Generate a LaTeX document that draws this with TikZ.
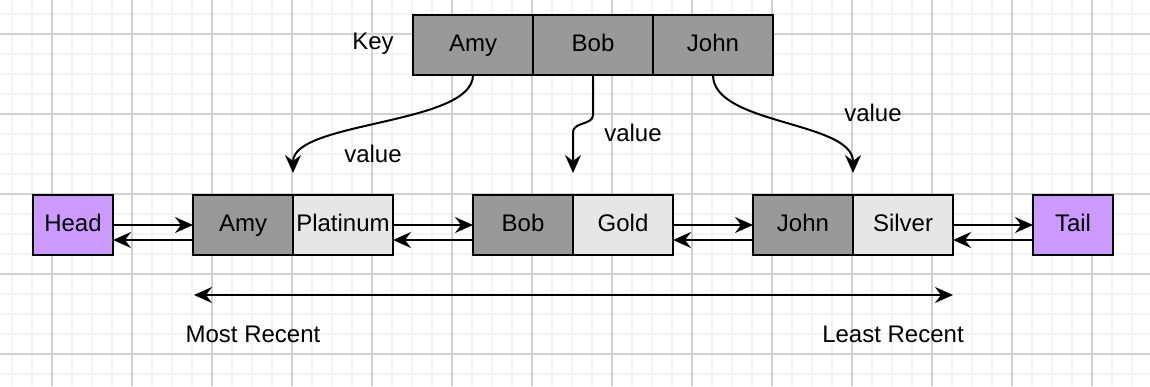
\documentclass[tikz,border=0pt]{standalone}
\usepackage{fontspec}
\setmainfont{Liberation Sans}
\usetikzlibrary{arrows.meta,positioning}
\definecolor{keyGray}{RGB}{153,153,153}
\definecolor{valGray}{RGB}{230,230,230}
\definecolor{endPurple}{RGB}{204,153,255}
\definecolor{gridMinor}{RGB}{243,243,243}
\definecolor{gridMajor}{RGB}{208,208,208}

\tikzset{
  cell/.style={draw=black, line width=1pt, minimum width=50pt, minimum height=30pt,
    inner sep=0pt, outer sep=0pt, text height=8.6pt, text depth=2.6pt,
    font=\fontsize{12}{14}\selectfont},
  keycell/.style={cell, fill=keyGray},
  valcell/.style={cell, fill=valGray},
  endcell/.style={cell, fill=endPurple, minimum width=40pt},
  vtip/.tip={Stealth[length=9pt,width=8pt,inset=3pt]},
  link/.style={line width=1pt, -vtip},
  lbl/.style={font=\fontsize{12}{14}\selectfont, inner sep=0pt}
}

\begin{document}
\begin{tikzpicture}[x=0.5pt, y=-0.5pt]
\useasboundingbox (0,0) rectangle (1150,386);
\fill[white] (0,0) rectangle (1150,386);

% grid
\foreach \x in {12,32,...,1150} \draw[gridMinor, line width=1pt] (\x,0) -- (\x,386);
\foreach \y in {14,34,...,386} \draw[gridMinor, line width=1pt] (0,\y) -- (1150,\y);
\foreach \x in {52,132,...,1150} \draw[gridMajor, line width=0.6pt] (\x,0) -- (\x,386);
\foreach \y in {34,114,...,386} \draw[gridMajor, line width=0.6pt] (0,\y) -- (1150,\y);

% key table
\node[keycell, minimum width=60pt] (keyamy) at (473,45) {Amy};
\node[keycell, minimum width=60pt, right=0pt of keyamy] (keybob) {Bob};
\node[keycell, minimum width=60pt, right=0pt of keybob] (keyjohn) {John};
\node[lbl] (keylbl) at (373,44) {Key};

% list
\node[endcell] (head) at (73,225) {Head};
\node[keycell] (amy) at (243,225) {Amy};
\node[valcell, right=0pt of amy] (plat) {Platinum};
\node[keycell] (bob) at (523,225) {Bob};
\node[valcell, right=0pt of bob] (gold) {Gold};
\node[keycell] (john) at (803,225) {John};
\node[valcell, right=0pt of john] (silver) {Silver};
\node[endcell] (tail) at (1073,225) {Tail};

\draw[link] (head.east) -- (amy.west);
\draw[link] ([yshift=-7.5pt]amy.west) -- ([yshift=-7.5pt]head.east);
\draw[link] (plat.east) -- (bob.west);
\draw[link] ([yshift=-7.5pt]bob.west) -- ([yshift=-7.5pt]plat.east);
\draw[link] (gold.east) -- (john.west);
\draw[link] ([yshift=-7.5pt]john.west) -- ([yshift=-7.5pt]gold.east);
\draw[link] (silver.east) -- (tail.west);
\draw[link] ([yshift=-7.5pt]tail.west) -- ([yshift=-7.5pt]silver.east);

% key -> value
\draw[link] (keyamy.south) .. controls +(0,-25pt) and +(0,26pt) .. ([yshift=11pt]amy.north east);
\draw[link] (keybob.south) -- ++(0,-20pt) .. controls +(0,-5pt) and +(0,5pt) .. ++(-10pt,-8.5pt)
  -- ([yshift=11pt]bob.north east);
\draw[link] (keyjohn.south) .. controls +(0,-25pt) and +(0,26pt) .. ([yshift=11pt]john.north east);
\node[lbl] (vamy) at (373,154) {value};
\node[lbl] (vbob) at (633,133) {value};
\node[lbl] (vjohn) at (873,113) {value};

% recency
\coordinate (mr) at (194,295);
\coordinate (lr) at (953,295);
\draw[line width=1pt, vtip-vtip] (mr) -- (lr);
\node[lbl] (most) at (253,334) {Most Recent};
\node[lbl] (least) at (893,334) {Least Recent};
\end{tikzpicture}
\end{document}
